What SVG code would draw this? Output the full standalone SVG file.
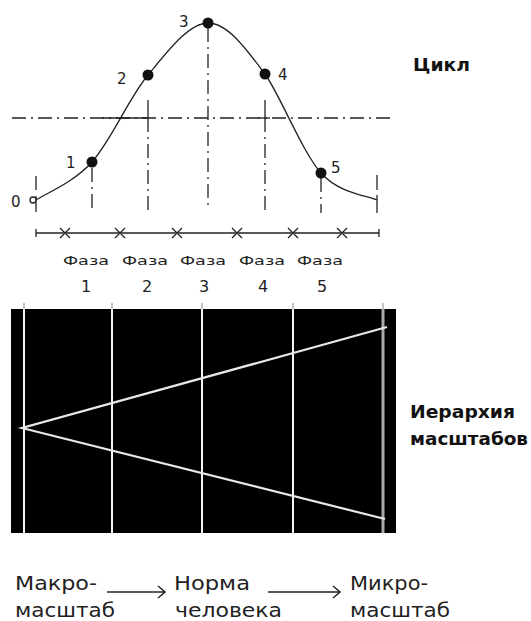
<svg xmlns="http://www.w3.org/2000/svg" width="531" height="621" viewBox="0 0 531 621">
<style>
.dd{stroke:#222;stroke-width:1.3;fill:none;stroke-dasharray:14,5,2,5}
.sl{stroke:#222;stroke-width:1.3;fill:none}
.lbl{font-family:"DejaVu Sans",sans-serif;font-size:15px;fill:#222}
.ph{font-family:"DejaVu Sans",sans-serif;font-size:13px;fill:#222;text-anchor:middle}
.pn{font-family:"DejaVu Sans",sans-serif;font-size:16px;fill:#222;text-anchor:middle}
.bt{font-family:"DejaVu Sans",sans-serif;font-size:20px;fill:#222}
.hd{font-family:"DejaVu Sans",sans-serif;font-weight:bold;font-size:17px;fill:#111}
.wl{stroke:#f4f4f4;stroke-width:2}
.cv{stroke:#e8e8e8;stroke-width:2.2;fill:none}
.ar{stroke:#222;stroke-width:1.5;fill:none}
</style>
<rect width="531" height="621" fill="#fff"/>
<g id="cycle">
  <line class="dd" x1="12" y1="118" x2="394" y2="118"/>
  <line class="sl" x1="102" y1="118" x2="148" y2="118"/>
  <line class="sl" x1="148" y1="100" x2="148" y2="118"/>
  <line class="sl" x1="258" y1="118" x2="270" y2="118"/>
  <line class="sl" x1="265" y1="100" x2="265" y2="118"/>
  <line class="dd" x1="92" y1="168" x2="92" y2="213"/>
  <line class="dd" x1="148" y1="118" x2="148" y2="213"/>
  <line class="dd" x1="208" y1="28" x2="208" y2="205"/>
  <line class="dd" x1="265" y1="118" x2="265" y2="213"/>
  <line class="dd" x1="321" y1="178" x2="321" y2="213"/>
  <line class="sl" x1="36" y1="176" x2="36" y2="190"/>
  <line class="sl" x1="36" y1="196" x2="36" y2="212"/>
  <line class="sl" x1="377" y1="175" x2="377" y2="190"/>
  <line class="sl" x1="377" y1="195" x2="377" y2="213"/>
  <path class="sl" d="M36,200 C45.3,193.7 73.3,182.8 92,162 C112,139 128.7,98.2 148,75 C167.3,51.8 188.5,23.2 208,23 C227.5,22.8 246.2,49 265,74 C280,95 302.3,152 321,173 C339.7,194 367.7,195.5 377,200"/>
  <circle cx="33" cy="200" r="3" fill="#fff" stroke="#222" stroke-width="1.3"/>
  <circle cx="92" cy="162" r="5.5" fill="#111"/>
  <circle cx="148" cy="75" r="5.5" fill="#111"/>
  <circle cx="208" cy="23" r="5.5" fill="#111"/>
  <circle cx="265" cy="74" r="5.5" fill="#111"/>
  <circle cx="321" cy="173" r="5.5" fill="#111"/>
  <text class="lbl" x="11" y="207">0</text>
  <text class="lbl" x="66" y="168">1</text>
  <text class="lbl" x="117" y="84">2</text>
  <text class="lbl" x="179" y="27">3</text>
  <text class="lbl" x="278" y="80">4</text>
  <text class="lbl" x="331" y="173">5</text>
  <text class="hd" x="413" y="71" textLength="57" lengthAdjust="spacingAndGlyphs">Цикл</text>
</g>
<g id="phases">
  <line class="sl" x1="36" y1="233" x2="379" y2="233"/>
  <line class="sl" x1="36" y1="229" x2="36" y2="237"/>
  <line class="sl" x1="379" y1="229" x2="379" y2="237"/>
  <path class="sl" d="M60,228 l10,10 M70,228 l-10,10 M115,228 l10,10 M125,228 l-10,10 M172,228 l10,10 M182,228 l-10,10 M232,228 l10,10 M242,228 l-10,10 M288,228 l10,10 M298,228 l-10,10 M337,228 l10,10 M347,228 l-10,10"/>
  <text class="ph" x="86" y="265" textLength="46" lengthAdjust="spacingAndGlyphs">Фаза</text>
  <text class="ph" x="145" y="265" textLength="46" lengthAdjust="spacingAndGlyphs">Фаза</text>
  <text class="ph" x="203" y="265" textLength="46" lengthAdjust="spacingAndGlyphs">Фаза</text>
  <text class="ph" x="262" y="265" textLength="46" lengthAdjust="spacingAndGlyphs">Фаза</text>
  <text class="ph" x="320" y="265" textLength="46" lengthAdjust="spacingAndGlyphs">Фаза</text>
  <text class="pn" x="86" y="292">1</text>
  <text class="pn" x="147" y="292">2</text>
  <text class="pn" x="204" y="292">3</text>
  <text class="pn" x="263" y="292">4</text>
  <text class="pn" x="322" y="292">5</text>
</g>
<g id="hierarchy">
  <rect x="11" y="309" width="385" height="224" fill="#000"/>
  <g stroke="#999" stroke-width="1.2">
    <line x1="24" y1="303" x2="24" y2="309"/>
    <line x1="112" y1="303" x2="112" y2="309"/>
    <line x1="202" y1="303" x2="202" y2="309"/>
    <line x1="293" y1="303" x2="293" y2="309"/>
    <line x1="383" y1="303" x2="383" y2="309"/>
  </g>
  <line class="wl" x1="24" y1="309" x2="24" y2="533"/>
  <line class="wl" x1="112" y1="309" x2="112" y2="533"/>
  <line class="wl" x1="202" y1="309" x2="202" y2="533"/>
  <line class="wl" x1="293" y1="309" x2="293" y2="533"/>
  <line x1="383" y1="309" x2="383" y2="533" stroke="#aaa" stroke-width="3"/>
  <path class="cv" d="M387,327 L22,428 L385,519"/>
  <text class="hd" x="410" y="418" textLength="105" lengthAdjust="spacingAndGlyphs">Иерархия</text>
  <text class="hd" x="410" y="445" textLength="118" lengthAdjust="spacingAndGlyphs">масштабов</text>
</g>
<g id="macro">
  <text class="bt" x="15" y="590" textLength="82" lengthAdjust="spacingAndGlyphs">Макро-</text>
  <text class="bt" x="15" y="617" textLength="100" lengthAdjust="spacingAndGlyphs">масштаб</text>
</g>
<g id="norm">
  <text class="bt" x="174" y="590" textLength="76" lengthAdjust="spacingAndGlyphs">Норма</text>
  <text class="bt" x="175" y="617" textLength="107" lengthAdjust="spacingAndGlyphs">человека</text>
</g>
<g id="micro">
  <text class="bt" x="350" y="590" textLength="78" lengthAdjust="spacingAndGlyphs">Микро-</text>
  <text class="bt" x="350" y="617" textLength="100" lengthAdjust="spacingAndGlyphs">масштаб</text>
</g>
<g id="connectors">
  <line class="ar" x1="107" y1="592" x2="165" y2="592"/>
  <path class="ar" d="M158,586 L165,592 L158,598"/>
  <line class="ar" x1="268" y1="592" x2="340" y2="592"/>
  <path class="ar" d="M333,586 L340,592 L333,598"/>
</g>
</svg>
